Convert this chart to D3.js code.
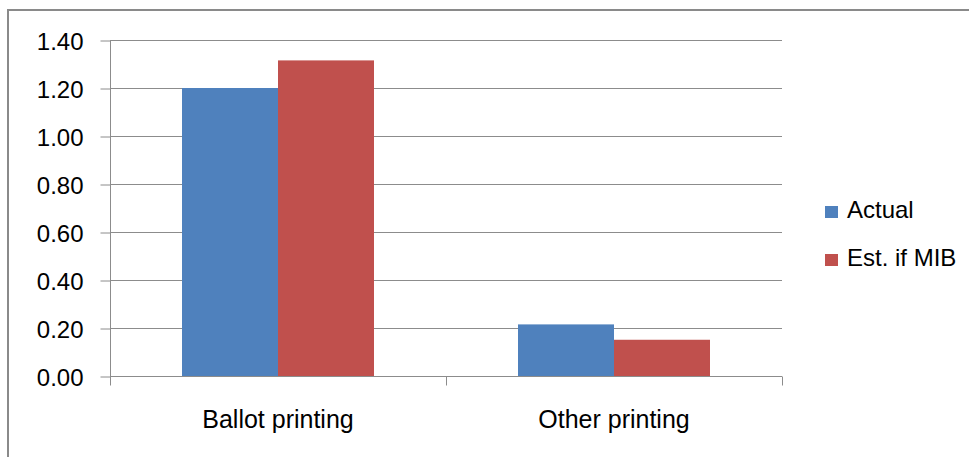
<!DOCTYPE html>
<html><head><meta charset="utf-8">
<script src="https://cdn.jsdelivr.net/npm/d3@7"></script>
<style>html,body{margin:0;padding:0;background:#fff;overflow:hidden}</style>
</head><body>
<svg id="c" width="969" height="457"></svg>
<script>
const categories = ["Ballot printing", "Other printing"];
const seriesNames = ["Actual", "Est. if MIB"];
const actual = [1.20, 0.215];
const estMIB = [1.315, 0.151];
const yTicks = [0, 0.2, 0.4, 0.6, 0.8, 1.0, 1.2, 1.4];
const colors = ["#4F81BD", "#C0504D"];

(function(){
const svg = d3.select("#c");
const font = "'Liberation Sans', Arial, sans-serif";
const pLeft = 110, pRight = 782, pTop = 40, pBottom = 376;

// outer border
svg.append("rect").attr("x", 8).attr("y", 10).attr("width", 970).attr("height", 470)
  .attr("fill", "#fff").attr("stroke", "#8a8a8a").attr("stroke-width", 2);

const y = d3.scaleLinear().domain([0, 1.4]).range([pBottom, pTop]);
const x0 = d3.scaleBand().domain(categories).range([pLeft, pRight]).paddingInner(0).paddingOuter(0);
const x1 = d3.scaleBand().domain(seriesNames).range([0, x0.bandwidth()]).paddingInner(0).paddingOuter(0.75);

// gridlines
svg.append("g").selectAll("line").data(yTicks.filter(d => d > 0)).join("line")
  .attr("x1", pLeft).attr("x2", pRight)
  .attr("y1", d => Math.round(y(d)) + 0.5).attr("y2", d => Math.round(y(d)) + 0.5)
  .attr("stroke", "#8c8c8c").attr("stroke-width", 1);

// bars
const data = categories.map((c, i) => ({c, vals: [actual[i], estMIB[i]]}));
svg.append("g").selectAll("g").data(data).join("g")
  .attr("transform", d => `translate(${x0(d.c)},0)`)
  .selectAll("rect").data(d => d.vals.map((v, j) => ({s: seriesNames[j], v, j}))).join("rect")
  .attr("x", d => x1(d.s)).attr("width", x1.bandwidth())
  .attr("y", d => y(d.v)).attr("height", d => pBottom - y(d.v))
  .attr("fill", d => colors[d.j]);

// y axis
const yAxis = d3.axisLeft(y).tickValues(yTicks).tickFormat(d3.format(".2f")).tickSize(10).tickPadding(17);
const gy = svg.append("g").attr("transform", `translate(${pLeft + 0.5},0.5)`).call(yAxis);
gy.select(".domain").attr("stroke", "#8c8c8c").attr("d", `M0,${pTop}V${pBottom}`);
gy.selectAll(".tick line").attr("stroke", "#8c8c8c");
gy.selectAll(".tick text").attr("font-family", font).attr("font-size", 24).attr("fill", "#000").attr("dy", "0.36em");

// x axis
const gx = svg.append("g").attr("transform", `translate(0,${pBottom + 0.5})`);
gx.append("line").attr("x1", pLeft).attr("x2", pRight).attr("stroke", "#8c8c8c");
gx.selectAll(".t").data([pLeft, x0(categories[1]), pRight]).join("line")
  .attr("x1", d => Math.round(d) + 0.5).attr("x2", d => Math.round(d) + 0.5).attr("y1", 0).attr("y2", 9)
  .attr("stroke", "#8c8c8c");
gx.selectAll("text").data(categories).join("text")
  .attr("x", d => x0(d) + x0.bandwidth() / 2).attr("y", 51)
  .attr("text-anchor", "middle").attr("font-family", font).attr("font-size", 25).attr("fill", "#000")
  .text(d => d);

// legend
const lg = svg.append("g").selectAll("g").data(seriesNames).join("g")
  .attr("transform", (d, i) => `translate(825,${206 + i * 48})`);
lg.append("rect").attr("width", 13).attr("height", 12).attr("fill", (d, i) => colors[i]);
lg.append("text").attr("x", 22).attr("y", 12).attr("font-family", font).attr("font-size", 24).attr("fill", "#000").text(d => d);
})();
</script>
</body></html>
